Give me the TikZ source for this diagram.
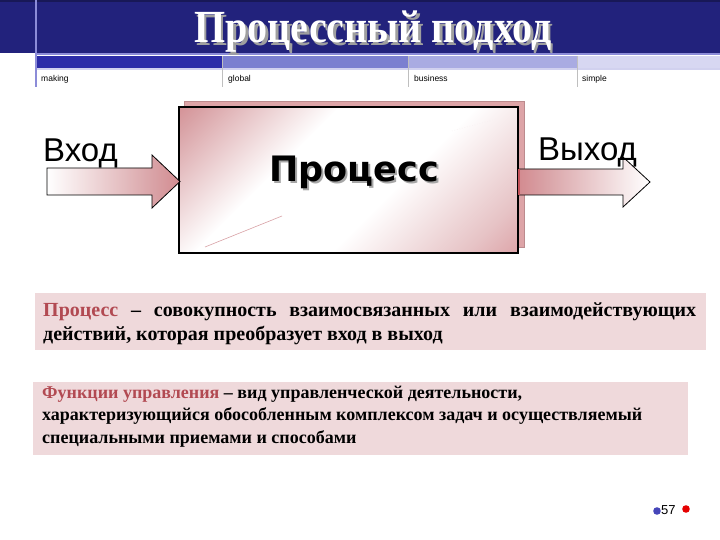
\documentclass[tikz,border=0pt]{standalone}
\usepackage{fontspec}
\setmainfont{Liberation Serif}
\newfontfamily\sansf{Liberation Sans}
\newfontfamily\djv{DejaVu Sans}
\definecolor{navy}{HTML}{22227C}
\definecolor{navyline}{HTML}{8C8CD8}
\definecolor{barA}{HTML}{2C2CA8}
\definecolor{barB}{HTML}{7B7FD0}
\definecolor{barC}{HTML}{A9ABE2}
\definecolor{barD}{HTML}{D7D7F2}
\definecolor{redA}{HTML}{C4525A}
\definecolor{pinkM}{HTML}{D9A2A6}
\definecolor{shadowpink}{HTML}{DDA4A7}
\definecolor{defbg}{HTML}{EFD9DB}
\definecolor{defred}{HTML}{B24A52}
\pgfdeclareverticalshading{procsh}{100bp}{color(0bp)=(redA!85!white); color(22bp)=(pinkM!65!white); color(42bp)=(white); color(62bp)=(white); color(82bp)=(pinkM); color(100bp)=(redA)}
\pgfdeclarehorizontalshading{inarrow}{100bp}{color(0bp)=(white); color(25bp)=(white); color(65bp)=(pinkM); color(100bp)=(redA)}
\pgfdeclarehorizontalshading{outarrow}{100bp}{color(0bp)=(redA); color(35bp)=(pinkM); color(75bp)=(white); color(100bp)=(white)}
\newcommand{\shadowtext}[3]{\rlap{\hspace{#1}\raisebox{-#1}{\textcolor{#2}{#3}}}#3}
\tikzset{
  barlabel/.style={anchor=base west, inner sep=0pt, font=\sansf\fontsize{8.5}{10}\selectfont},
  sepline/.style={draw=gray!50, line width=0.6pt},
  arrowshape/.style={draw=black, line width=0.8pt, line join=miter},
  bigword/.style={anchor=base west, inner sep=0pt, font=\sansf\fontsize{33}{36}\selectfont},
  deftext/.style={anchor=base west, inner sep=0pt, align=left}
}
\begin{document}
\begin{tikzpicture}[x=1pt,y=-1pt]
\useasboundingbox (0,0) rectangle (720,540);
% header
\fill[navy] (0,0) rectangle (720,53);
\fill[navy!70!black] (0,0) rectangle (720,2);
\fill[navyline] (36,53) rectangle (720,55.5);
\fill[barA] (36,56) rectangle (222,68);
\fill[barB] (222,56) rectangle (408,68);
\fill[barC] (408,56) rectangle (577,68);
\fill[barD] (577,56) rectangle (720,68);
\fill[navyline!40] (36,68) rectangle (720,70);
\draw[navyline, line width=1.2pt] (36,0) -- (36,87);
\foreach \xx in {222,408,577} \draw[sepline] (\xx,56) -- (\xx,87);
\node[barlabel] (l1) at (41,82) {making};
\node[barlabel] (l2) at (228,82) {global};
\node[barlabel] (l3) at (414,82) {business};
\node[barlabel] (l4) at (582,82) {simple};
\node[anchor=base, inner sep=0pt, text=white, font=\fontsize{40}{40}\selectfont\bfseries] (title) at (373,43) {\scalebox{1}[1.15]{\shadowtext{2.5pt}{gray!75}{Процессный подход}}};
% process box
\filldraw[fill=shadowpink, draw=shadowpink!85!black, line width=0.8pt] (184,101) rectangle (524,247);
\shade[shading=procsh, shading angle=45] (179,107) rectangle (518,253);
\draw[pinkM, line width=0.6pt] (205,247) -- (282,216);
\draw[white!85!pinkM, line width=0.6pt, dotted] (452,131) -- (500,118);
\draw[black, line width=2pt] (179,107) rectangle (518,253);
% arrows
\shade[shading=inarrow, arrowshape] (47,168) -- (152,168) -- (152,155) -- (180,181.5) -- (152,208) -- (152,195) -- (47,195) -- cycle;
\shade[shading=outarrow, arrowshape] (519,169) -- (623,169) -- (623,157) -- (650,182) -- (623,207) -- (623,195) -- (519,195);
\fill[redA] (518,169.4) rectangle (520,194.6);
\node[bigword] (vhod) at (43,162) {Вход};
\node[bigword] (vyhod) at (538,161) {Выход};
\node[anchor=base, inner sep=0pt, text=black, font=\djv\bfseries\fontsize{35}{36}\selectfont] (proc) at (354,182) {\shadowtext{2pt}{gray!70}{Процесс}};
% definition 1
\fill[defbg] (35,293) rectangle (706,350);
\node[deftext, font=\bfseries\fontsize{20}{24}\selectfont] (def1) at (43,340)
  {\makebox[653pt][s]{\textcolor{defred}{Процесс} – совокупность взаимосвязанных или взаимодействующих}\\действий, которая преобразует вход в выход};
% definition 2
\fill[defbg] (33,382) rectangle (688,455);
\node[deftext, font=\bfseries\fontsize{18}{22.5}\selectfont] (def2) at (42,443)
  {\textcolor{defred}{Функции управления} – вид управленческой деятельности,\\характеризующийся обособленным комплексом задач и осуществляемый\\специальными приемами и способами};
% page number
\fill[blue!45!gray] (657,511) circle (3.8);
\fill[red!90!black] (686,509) circle (3.8);
\node[anchor=base west, inner sep=0pt, font=\sansf\fontsize{13}{14}\selectfont] (pg) at (661,514) {57};
\end{tikzpicture}
\end{document}
